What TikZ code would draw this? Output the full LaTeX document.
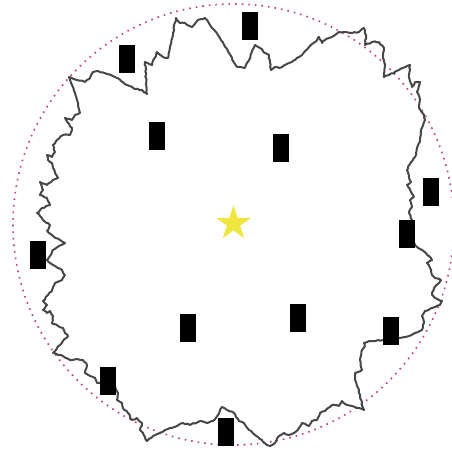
\documentclass[tikz,border=0pt]{standalone}
\usetikzlibrary{shapes.geometric,decorations.pathmorphing}
\definecolor{dotc}{RGB}{190,60,130}
\definecolor{starc}{RGB}{238,230,62}
\tikzset{
  blk/.style={fill=black,draw=none,minimum width=16pt,minimum height=28pt,inner sep=0pt},
  rough/.style={draw=black!72,line width=2pt,line join=round,
    decorate,decoration={random steps,segment length=2.5pt,amplitude=0.6pt}},
  dotring/.style={draw=dotc,line width=1.6pt,dash pattern=on 1.6pt off 5pt}
}
\begin{document}
\begin{tikzpicture}[x=1pt,y=-1pt]
\pgfmathsetseed{7}
\useasboundingbox (0,0) rectangle (452,453);
\coordinate (ctr) at (233.5,224.5);
\draw[dotring] (ctr) circle[radius=220.5pt];
\draw[rough] (69,77) -- (77,80) -- (85,82) -- (90,78) -- (93,72) -- (98,71) -- (107,74) -- (117,78) -- (127,85) -- (135,89) -- (142,90) -- (147,94) -- (145,62) -- (152,65) -- (157,52) -- (163,57) -- (168,58) -- (170,47) -- (173,33) -- (176,18) -- (180,23) -- (185,23) -- (192,27) -- (198,20) -- (205,18) -- (210,25) -- (220,38) -- (229,53) -- (237,67) -- (245,68) -- (249,60) -- (255,45) -- (260,48) -- (265,53) -- (269,55) -- (271,70) -- (275,67) -- (279,68) -- (289,63) -- (295,60) -- (302,55) -- (309,47) -- (315,42) -- (319,37) -- (322,43) -- (325,40) -- (329,38) -- (332,37) -- (339,32) -- (345,32) -- (352,33) -- (359,32) -- (364,28) -- (366,35) -- (365,45) -- (372,42) -- (379,42) -- (384,48) -- (383,58) -- (385,65) -- (384,77) -- (389,75) -- (399,70) -- (410,65) -- (409,77) -- (412,87) -- (415,82) -- (420,82) -- (417,92) -- (420,100) -- (419,108) -- (424,115) -- (425,120) -- (421,130) -- (420,140) -- (417,148) -- (415,157) -- (411,162) -- (407,170) -- (409,177) -- (411,182) -- (407,185) -- (411,192) -- (414,197) -- (410,200) -- (412,207) -- (409,213) -- (412,220) -- (410,235) -- (415,245) -- (422,250) -- (429,256) -- (432,260) -- (427,263) -- (430,268) -- (432,275) -- (435,278) -- (441,280) -- (439,283) -- (434,288) -- (432,295) -- (435,298) -- (442,301) -- (440,305) -- (432,308) -- (425,311) -- (422,316) -- (424,323) -- (422,330) -- (415,333) -- (409,336) -- (399,338) -- (391,339) -- (383,340) -- (375,341) -- (369,341) -- (364,343) -- (365,346) -- (362,350) -- (360,360) -- (362,370) -- (355,373) -- (355,380) -- (359,390) -- (360,398) -- (364,410) -- (359,408) -- (352,406) -- (347,405) -- (342,401) -- (339,406) -- (332,405) -- (325,411) -- (320,413) -- (317,420) -- (312,421) -- (309,426) -- (302,423) -- (299,428) -- (294,433) -- (289,435) -- (284,433) -- (279,436) -- (275,443) -- (270,446) -- (267,445) -- (262,440) -- (255,435) -- (249,430) -- (244,423) -- (239,421) -- (234,413) -- (227,410) -- (222,407) -- (218,415) -- (213,421) -- (207,423) -- (200,421) -- (190,425) -- (183,423) -- (177,426) -- (170,428) -- (160,433) -- (153,436) -- (147,441) -- (143,433) -- (140,430) -- (142,423) -- (137,418) -- (132,420) -- (128,413) -- (123,408) -- (122,403) -- (117,400) -- (118,393) -- (115,386) -- (107,383) -- (97,383) -- (95,378) -- (90,376) -- (85,373) -- (87,365) -- (83,360) -- (77,359) -- (70,360) -- (63,356) -- (58,355) -- (53,353) -- (57,348) -- (60,345) -- (63,341) -- (68,336) -- (65,333) -- (63,328) -- (58,326) -- (52,323) -- (53,316) -- (50,311) -- (47,313) -- (43,310) -- (47,305) -- (43,301) -- (48,295) -- (52,290) -- (55,283) -- (62,280) -- (65,275) -- (62,270) -- (55,266) -- (50,263) -- (47,260) -- (50,256) -- (53,250) -- (65,243) -- (60,240) -- (53,236) -- (47,231) -- (50,225) -- (43,220) -- (40,216) -- (37,213) -- (42,208) -- (50,205) -- (47,198) -- (40,195) -- (43,190) -- (40,182) -- (47,185) -- (53,180) -- (58,178) -- (55,173) -- (53,168) -- (52,163) -- (48,160) -- (47,155) -- (52,157) -- (55,152) -- (53,145) -- (57,140) -- (63,135) -- (70,135) -- (72,128) -- (68,123) -- (65,118) -- (72,120) -- (75,115) -- (80,113) -- (78,103) -- (75,93) -- (72,85) -- cycle;
\node[blk] (r1) at (250,26) {};
\node[blk] (r2) at (127,59) {};
\node[blk] (r3) at (157,136) {};
\node[blk] (r4) at (281,148) {};
\node[blk] (r5) at (431,192) {};
\node[blk] (r6) at (407,234) {};
\node[blk] (r7) at (38,255) {};
\node[blk] (r8) at (188,328) {};
\node[blk] (r9) at (298,318) {};
\node[blk] (r10) at (391,331) {};
\node[blk] (r11) at (108,381) {};
\node[blk] (r12) at (226,432) {};
\node[star,star points=5,star point ratio=2.618,minimum size=36.5pt,inner sep=0pt,fill=starc,draw=none] (st) at (233.5,223.5) {};
\end{tikzpicture}
\end{document}
